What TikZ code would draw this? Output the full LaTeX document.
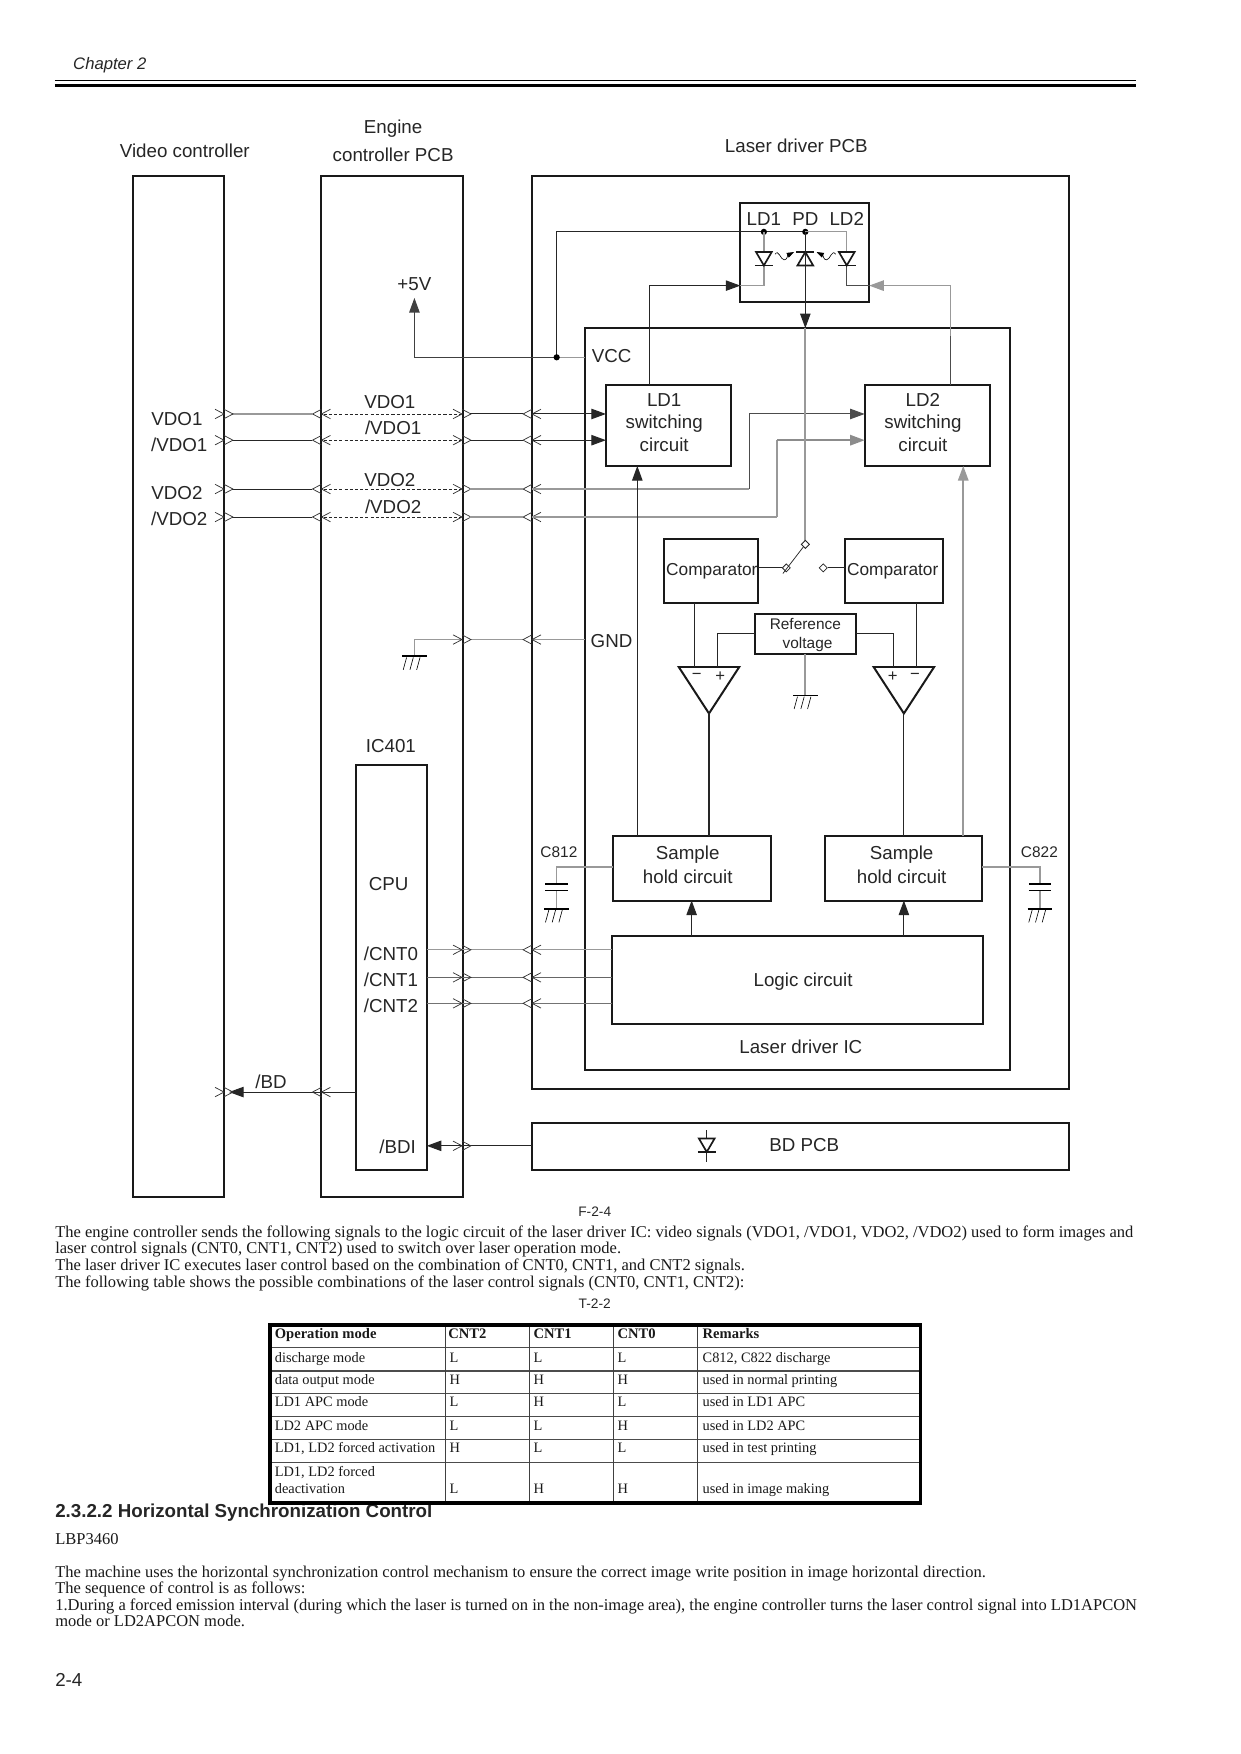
\documentclass[tikz,border=0pt]{standalone}
\usepackage{fontspec}
\setmainfont{Liberation Serif}
\newfontfamily\ar{Liberation Sans}
\usetikzlibrary{arrows.meta,shapes.geometric,calc}
\newcounter{tn}
\newcommand\tx[4][]{\stepcounter{tn}\node[lbl,name=t\arabic{tn},#1] at (#2,#3) {#4};}
\newcommand\bx[5]{\node[blk,name=#1,minimum width={(#4-#2)*0.5377pt},minimum height={(#5-#3)*0.5377pt}] at ({(#2+#4)/2},{(#3+#5)/2}) {};}
\newcommand\rch[2]{\begin{scope}[shift={(#1 |- #2)}]\draw[chev] (-8,-4.2)--(0,0)--(-8,4.2) (0,-4.2)--(8,0)--(0,4.2);\end{scope}}
\newcommand\lch[2]{\begin{scope}[shift={(#1 |- #2)}]\draw[chev] (8,-4.2)--(0,0)--(8,4.2) (0,-4.2)--(-8,0)--(0,4.2);\end{scope}}
\newcommand\gnd[1]{\begin{scope}[shift={(#1)}]\draw[line width=.9pt] (-11,0)--(11,0);\draw[line width=.3pt] (-7,1)--(-10,12) (-1,1)--(-4,12) (5,1)--(2,12);\end{scope}}
\newcommand\diodedn[1]{\begin{scope}[shift={(#1)}]\draw[dio,fill=white] (-7,-6)--(7,-6)--(0,6)--cycle;\draw[dio] (-8,6)--(8,6);\end{scope}}
\newcommand\diodeup[1]{\begin{scope}[shift={(#1)}]\draw[dio,fill=white] (-7,6)--(7,6)--(0,-6)--cycle;\draw[dio] (-8,-6)--(8,-6);\end{scope}}
\tikzset{
  lbl/.style={inner sep=0pt,anchor=base,yshift=-3.1pt,font=\ar\fontsize{9}{10}\selectfont,text=black!85},
  sml/.style={yshift=.5pt,font=\ar\fontsize{7.4}{8}\selectfont},
  cmpf/.style={font=\ar\fontsize{8.3}{9}\selectfont},
  sgn/.style={anchor=center,yshift=3.1pt,font=\ar\fontsize{8}{9}\selectfont},
  body/.style={inner sep=0pt,anchor=base west,yshift=-1.9pt,font=\fontsize{7.92}{8}\selectfont,text=black!90},
  cell/.style={inner sep=0pt,anchor=base west,yshift=-1.7pt,font=\fontsize{6.9}{7}\selectfont,text=black!90},
  hcell/.style={cell,font=\bfseries\fontsize{7}{7}\selectfont},
  blk/.style={draw=black!90,line width=.95pt,inner sep=0pt,outer sep=0pt},
  sig/.style={line width=.5pt,draw=black!85},
  gsig/.style={line width=.6pt,draw=black!40},
  dsig/.style={line width=.45pt,draw=black!85,dash pattern=on 1.5pt off 1pt},
  chev/.style={line width=.35pt,draw=black!80},
  arr/.style={-{Triangle[length=7pt,width=5pt]}},
  dio/.style={line width=.8pt,draw=black!90},
  dot/.style={circle,fill=black,inner sep=0pt,minimum size=3pt},
  cont/.style={diamond,draw=black!85,fill=white,line width=.4pt,inner sep=0pt,minimum size=4pt},
}
\begin{document}
\begin{tikzpicture}[x=0.5377pt,y=-0.5377pt]
\useasboundingbox (0,0) rectangle (1107.1,1566);
\fill[white] (0,0) rectangle (1107.1,1566);
% header
\tx[anchor=base west,font=\ar\itshape\fontsize{8}{9}\selectfont]{65}{56}{Chapter 2}
\draw[line width=.5pt] (49,72)--(1014,72);
\draw[line width=1.4pt] (49,76)--(1014,76);
% titles
\tx{165}{135}{Video controller}
\tx{351}{113.5}{Engine}
\tx{351}{138}{controller PCB}
\tx{711}{130}{Laser driver PCB}
% boxes
\bx{video}{118.5}{157}{200}{1069}
\bx{engine}{287}{157}{413}{1069}
\bx{pcb}{475}{157}{954}{972}
\bx{ic}{522}{293}{902}{955}
\bx{ldm}{661}{181}{776}{270}
\bx{swA}{541}{344}{653}{416}
\bx{swB}{772}{344}{884}{416}
\bx{cmpA}{593}{481}{677}{538}
\bx{cmpB}{754}{481}{842}{538}
\bx{refv}{674}{548}{764}{584}
\bx{shA}{547}{746}{688}{804}
\bx{shB}{737}{746}{877}{804}
\bx{logic}{546}{836}{878}{914}
\bx{cpu}{318}{683}{381}{1045}
\bx{bdp}{475}{1003}{954}{1045}
% coordinates
\coordinate (rA) at (0,369.6);\coordinate (rB) at (0,393);\coordinate (rC) at (0,436.6);\coordinate (rD) at (0,461.6);
\coordinate (rG) at (0,571);\coordinate (c0) at (0,848);\coordinate (c1) at (0,872.6);\coordinate (c2) at (0,895.8);
\coordinate (rBD) at (0,975);\coordinate (rBI) at (0,1023);
\coordinate (xa) at (207,0);\coordinate (xb) at (279,0);\coordinate (xc) at (289,0);\coordinate (xd) at (412,0);
\coordinate (xe) at (420,0);\coordinate (xf) at (467,0);\coordinate (xg) at (475,0);
\coordinate (xV) at (200,0);\coordinate (xEl) at (287,0);\coordinate (xEr) at (412.5,0);\coordinate (xP) at (475,0);
\coordinate (rVA) at (669,0);\coordinate (rVB) at (694,0);
% signal rows
\draw[gsig,line width=.8pt] (xa |- rA)--(xb |- rA);
\draw[sig] (xa |- rB)--(xb |- rB) (xa |- rC)--(xb |- rC) (xa |- rD)--(xb |- rD);
\foreach \r in {rA,rB,rC,rD}{\draw[dsig] (xc |- \r)--(xd |- \r);\rch{xV}{\r}\lch{xEl}{\r}\rch{xEr}{\r}\lch{xP}{\r}}
\draw[sig] (xe |- rA)--(xf |- rA) (xe |- rB)--(xf |- rB);
\draw[gsig] (xe |- rC)--(xf |- rC);
\draw[gsig,line width=.8pt] (xe |- rD)--(xf |- rD);
\draw[sig,arr] (xg |- rA)--(swA.west |- rA);
\draw[sig,arr] (xg |- rB)--(swA.west |- rB);
\draw[gsig] (xg |- rC)--(rVA |- rC);
\draw[sig,draw=black!70,arr] (rVA |- rC)--(rVA |- rA)--(swB.west |- rA);
\draw[gsig,line width=.8pt] (xg |- rD)--(rVB |- rD);
\draw[gsig,line width=.8pt] (rVB |- rD)--(rVB |- rB);
\draw[gsig,line width=.8pt,draw=black!45,arr] (rVB |- rB)--(swB.west |- rB);
% GND
\coordinate (g1) at (370,586);
\draw[gsig] (ic.west |- rG)--(xg |- rG) (xf |- rG)--(xe |- rG) (xd |- rG)--(g1 |- rG)--(g1);
\gnd{g1}
\rch{xEr}{rG}\lch{xP}{rG}
% +5V and VCC
\coordinate (vcc) at (0,319);\coordinate (p5) at (370,266);\coordinate (jV) at (497,319);\coordinate (top) at (0,207);
\coordinate (dA) at (682,207);\coordinate (dP) at (719,207);\coordinate (dB) at (756,207);
\tx{370}{254}{+5V}
\draw[sig,draw=black!75,arr] (jV)--(p5 |- vcc)--(p5);
\draw[gsig] (jV)--(ic.west |- vcc);
\draw[sig] (jV)--(jV |- top)--(dP);
\node[dot,name=dotV] at (jV) {};
\node[dot,name=dotA] at (dA) {};
\node[dot,name=dotP] at (dP) {};
\draw[gsig] (dP)--(dB)--(dB |- 0,225);
\draw[gsig] (dA)--(dA |- 0,225);
% LD module
\coordinate (ymd) at (0,255);
\draw[gsig] (dA |- 0,237)--(dA |- ymd)--(ldm.west |- ymd);
\draw[sig,draw=black!70] (dB |- 0,237)--(dB |- ymd)--(ldm.east |- ymd);
\diodedn{682,231}
\diodeup{719,231}
\diodedn{756,231}
\draw[sig,arr] (dP)--(dP |- ic.north);
\draw[gsig,line width=.8pt] (dP |- ic.north)--(dP |- 0,483);
\draw[line width=.3pt,-{Triangle[length=3.5pt,width=2.4pt]}] (692,227) .. controls (695,222) and (697,232) .. (700,232) .. controls (703,232) and (703,228) .. (709,225);
\draw[line width=.3pt,-{Triangle[length=3.5pt,width=2.4pt]}] (746,227) .. controls (743,222) and (741,232) .. (738,232) .. controls (735,232) and (735,228) .. (729,225);
\tx{682}{196}{LD1}
\tx{719}{196}{PD}
\tx{756}{196}{LD2}
\coordinate (xu) at (579.5,0);\coordinate (xw) at (848.5,0);
\draw[sig,arr] (xu |- swA.north)--(xu |- ymd)--(ldm.west |- ymd);
\draw[gsig,arr] (xw |- swB.north)--(xw |- ymd)--(ldm.east |- ymd);
\draw[sig,draw=black!70] (xw |- swB.north)--(xw |- 0,300);
% labels
\tx{546}{318}{VCC}
\tx{546}{572}{GND}
\tx{593}{357}{LD1}\tx{593}{377}{switching}\tx{593}{397}{circuit}
\tx{824}{357}{LD2}\tx{824}{377}{switching}\tx{824}{397}{circuit}
\tx[cmpf]{635.5}{508}{Comparator}\tx[cmpf]{797}{508}{Comparator}
\tx[sml]{719}{557}{Reference}\tx[sml]{721}{574}{voltage}
\tx{614}{762}{Sample}\tx{614}{783}{hold circuit}
\tx{805}{762}{Sample}\tx{805}{783}{hold circuit}
\tx{717}{875}{Logic circuit}
\tx{715}{935}{Laser driver IC}
\tx{158}{374}{VDO1}\tx{160}{397}{/VDO1}\tx{158}{440}{VDO2}\tx{160}{463}{/VDO2}
\tx{348}{359}{VDO1}\tx{351}{382}{/VDO1}\tx{348}{429}{VDO2}\tx{351}{453}{/VDO2}
\tx{349}{666}{IC401}\tx{347}{789}{CPU}
\tx{349}{852}{/CNT0}\tx{349}{875}{/CNT1}\tx{349}{898}{/CNT2}
\tx{355}{1024}{/BDI}\tx{242}{966}{/BD}\tx{718}{1022}{BD PCB}
% switch
\node[cont,name=swT] at (719,486) {};
\node[cont,name=swL] at (702,507) {};
\node[cont,name=swR] at (735,507) {};
\draw[sig] (cmpA.east |- swL)--(swL);
\draw[sig] (swR)--(cmpB.west |- swR);
\draw[line width=.35pt,draw=black!85] (swT)--(699,512);
% op amps
\coordinate (oA) at (633,637);\coordinate (oB) at (807,637);\coordinate (yt) at (0,595.5);
\draw[blk,line join=miter] (606,595.5)--(660,595.5)--(oA)--cycle;
\draw[blk,line join=miter] (780,595.5)--(834,595.5)--(oB)--cycle;
\tx[sgn]{622}{604}{−}\tx[sgn]{643}{604}{+}
\tx[sgn]{797}{604}{+}\tx[sgn]{817}{604}{−}
\coordinate (xcA) at (620,0);\coordinate (xcB) at (818,0);\coordinate (xrA) at (641,0);\coordinate (xrB) at (797.5,0);\coordinate (yr) at (0,566);
\draw[sig] (xcA |- cmpA.south)--(xcA |- yt);
\draw[sig] (xcB |- cmpB.south)--(xcB |- yt);
\draw[sig] (refv.west |- yr)--(xrA |- yr)--(xrA |- yt);
\draw[sig] (refv.east |- yr)--(xrB |- yr)--(xrB |- yt);
\coordinate (g2) at (719,621);
\draw[gsig,line width=.8pt] (refv.south -| g2)--(g2);
\gnd{g2}
\draw[sig] (oA)--(oA |- shA.north);
\draw[sig] (oB)--(oB |- shB.north);
% sample to switching
\coordinate (xsA) at (569,0);\coordinate (xsB) at (860,0);
\draw[sig,arr] (xsA |- shA.north)--(xsA |- swA.south);
\draw[gsig,line width=.8pt,arr] (xsB |- shB.north)--(xsB |- swB.south);
% caps
\coordinate (yC) at (0,774);\coordinate (xCa) at (497,0);\coordinate (xCb) at (928.5,0);
\tx[sml]{499}{761}{C812}\tx[sml]{928}{761}{C822}
\coordinate (g3) at (497,811.5);\coordinate (g4) at (928.5,811.5);
\draw[gsig] (shA.west |- yC)--(xCa |- yC)--(xCa |- 0,789);
\draw[gsig] (shB.east |- yC)--(xCb |- yC)--(xCb |- 0,789);
\draw[gsig] (xCa |- 0,795)--(g3);
\draw[gsig] (xCb |- 0,795)--(g4);
\draw[line width=.9pt] (487,789)--(507,789) (487,795)--(507,795) (918.5,789)--(938.5,789) (918.5,795)--(938.5,795);
\gnd{g3}\gnd{g4}
% logic arrows
\coordinate (xlA) at (617.5,0);\coordinate (xlB) at (807,0);
\draw[sig,arr] (xlA |- logic.north)--(xlA |- shA.south);
\draw[sig,arr] (xlB |- logic.north)--(xlB |- shB.south);
% CNT
\draw[gsig] (cpu.east |- c0)--(xf |- c0) (xg |- c0)--(logic.west |- c0);
\draw[sig,draw=black!60] (cpu.east |- c1)--(xf |- c1) (xg |- c1)--(logic.west |- c1);
\draw[sig,draw=black!55] (cpu.east |- c2)--(xf |- c2) (xg |- c2)--(logic.west |- c2);
\foreach \r in {c0,c1,c2}{\rch{xEr}{\r}\lch{xP}{\r}}
% BD
\draw[sig,arr] (cpu.west |- rBD)--(204.5,975);
\rch{xV}{rBD}\lch{xEl}{rBD}
\draw[sig,arr] (bdp.west |- rBI)--(cpu.east |- rBI);
\rch{xEr}{rBI}
\coordinate (bdd) at (631,1023);
\draw[sig] (631,1009)--(631,1037);
\diodedn{631,1022.5}
% captions / body
\tx[sml,font=\ar\fontsize{6.6}{8}\selectfont]{531}{1081}{F-2-4}
\node[body,name=b1] at (49,1101) {The engine controller sends the following signals to the logic circuit of the laser driver IC: video signals (VDO1, /VDO1, VDO2, /VDO2) used to form images and};
\node[body,name=b2] at (49,1116) {laser control signals (CNT0, CNT1, CNT2) used to switch over laser operation mode.};
\node[body,name=b3] at (49,1131) {The laser driver IC executes laser control based on the combination of CNT0, CNT1, and CNT2 signals.};
\node[body,name=b4] at (49,1146) {The following table shows the possible combinations of the laser control signals (CNT0, CNT1, CNT2):};
\tx[sml,font=\ar\fontsize{6.6}{8}\selectfont]{531}{1163}{T-2-2}
\tx[anchor=base west,font=\ar\bfseries\fontsize{9}{9}\selectfont]{49}{1349}{2.3.2.2 Horizontal Synchronization Control}
% table
\fill[white] (241,1183) rectangle (822,1342);
\draw[line width=.55pt,draw=black!70] (241,1203)--(822,1203) (241,1224)--(822,1224) (241,1244.5)--(822,1244.5) (241,1265)--(822,1265) (241,1285.5)--(822,1285.5) (241,1306)--(822,1306);
\draw[line width=.55pt,draw=black!75] (398,1183)--(398,1342) (472.5,1183)--(472.5,1342) (548,1183)--(548,1342) (623,1183)--(623,1342);
\draw[line width=1.7pt,draw=black] (241,1183) rectangle (822,1342);
\foreach \yy/\a/\b/\c/\d/\e in {
 1213/discharge mode/L/L/L/{C812, C822 discharge},
 1233/data output mode/H/H/H/used in normal printing,
 1253/LD1 APC mode/L/H/L/used in LD1 APC,
 1274/LD2 APC mode/L/L/H/used in LD2 APC,
 1294/{LD1, LD2 forced activation}/H/L/L/used in test printing}{
 \node[cell] at (245,\yy) {\a};\node[cell] at (401,\yy) {\b};\node[cell] at (476,\yy) {\c};\node[cell] at (551,\yy) {\d};\node[cell] at (627,\yy) {\e};}
\node[hcell,name=h0] at (245,1192) {Operation mode};
\node[hcell,name=h1] at (400,1192) {CNT2};
\node[hcell,name=h2] at (476,1192) {CNT1};
\node[hcell,name=h3] at (551,1192) {CNT0};
\node[hcell,name=h4] at (627,1192) {Remarks};
\node[cell,name=c60] at (245,1315) {LD1, LD2 forced};
\node[cell,name=c61] at (245,1330) {deactivation};
\node[cell,name=c62] at (401,1330) {L};
\node[cell,name=c63] at (476,1330) {H};
\node[cell,name=c64] at (551,1330) {H};
\node[cell,name=c65] at (627,1330) {used in image making};
% lower body
\node[body,name=b5] at (49,1375) {LBP3460};
\node[body,name=b6] at (49,1405) {The machine uses the horizontal synchronization control mechanism to ensure the correct image write position in image horizontal direction.};
\node[body,name=b7] at (49,1419.5) {The sequence of control is as follows:};
\node[body,name=b8] at (49,1434) {1.During a forced emission interval (during which the laser is turned on in the non-image area), the engine controller turns the laser control signal into LD1APCON};
\node[body,name=b9] at (49,1449) {mode or LD2APCON mode.};
\tx[anchor=base west]{49}{1500}{2-4}
\end{tikzpicture}
\end{document}
